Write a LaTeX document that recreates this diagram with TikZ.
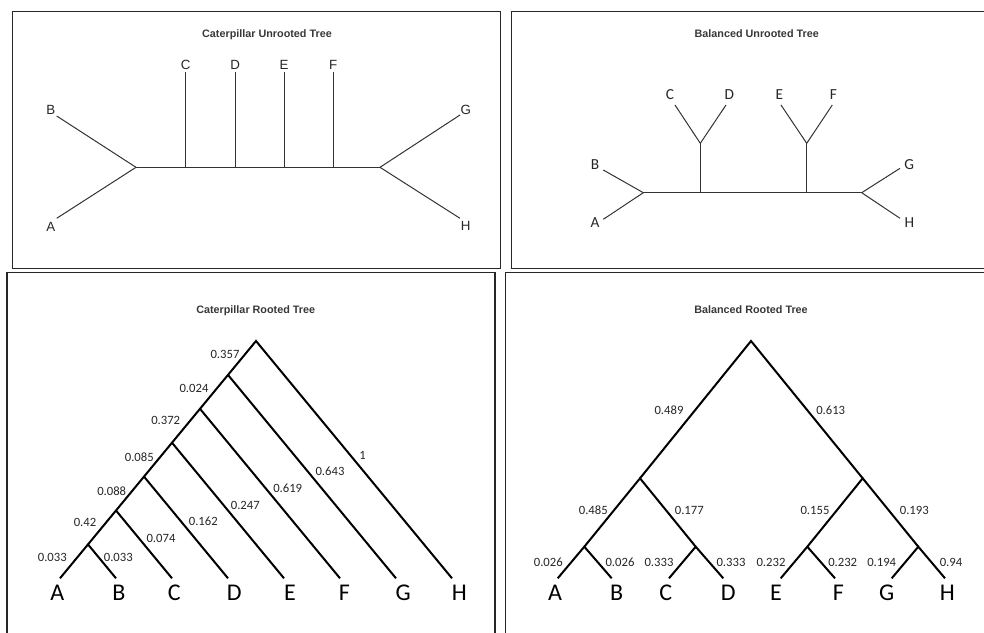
\documentclass[tikz,border=0pt]{standalone}
\usepackage{fontspec}
\setmainfont{Liberation Sans}
\newfontfamily\calfont{Carlito}
\newfontfamily\arfont{Liberation Sans}
\begin{document}
\begin{tikzpicture}[x=0.75pt,y=-0.75pt,
  frame/.style={draw=black!85, line width=1.15pt},
  ttl/.style={font=\arfont\bfseries\fontsize{8.1}{9}\selectfont, text=black!78, inner sep=0pt, anchor=base},
  ulab/.style={font=\arfont\fontsize{10}{12}\selectfont, text=black!85, inner sep=0pt},
  blab/.style={font=\calfont\fontsize{11.5}{13}\selectfont, text=black!85, inner sep=0pt},
  uedge/.style={draw=black!80, line width=0.75pt},
  redge/.style={draw=black, line width=1.5pt},
  wlab/.style={font=\calfont\fontsize{9.5}{11}\selectfont, text=black!85, inner sep=0pt},
  leaf/.style={font=\calfont\fontsize{18}{20}\selectfont, inner sep=0pt},
]
\useasboundingbox (0,0) rectangle (984,632);
% frames
\draw[frame] (12.5,11.5) rectangle (500.3,268.7);
\draw[frame] (511.7,11.5) rectangle (990,268.7);
\draw[frame] (7,272.3) rectangle (495,640);
\draw[frame] (505.7,272.3) rectangle (990,640);

% ===== Caterpillar Unrooted Tree =====
\node[ttl] (t1) at (267,37.3) {Caterpillar Unrooted Tree};
\coordinate (cl) at (136,167.3);
\coordinate (cr) at (380,167.3);
\coordinate (cc) at (185.7,167.3);
\coordinate (cd) at (235.3,167.3);
\coordinate (ce) at (284,167.3);
\coordinate (cf) at (333.3,167.3);
\coordinate (cC) at (185.7,72);
\coordinate (cD) at (235.3,72);
\coordinate (cE) at (284,72);
\coordinate (cF) at (333.3,72);
\coordinate (cB) at (56.7,116);
\coordinate (cA) at (56.7,218.3);
\coordinate (cG) at (460,115);
\coordinate (cH) at (460,218.3);
\draw[uedge] (cl) -- (cc) -- (cd) -- (ce) -- (cf) -- (cr);
\draw[uedge] (cc) -- (cC);
\draw[uedge] (cd) -- (cD);
\draw[uedge] (ce) -- (cE);
\draw[uedge] (cf) -- (cF);
\draw[uedge] (cl) -- (cB);
\draw[uedge] (cl) -- (cA);
\draw[uedge] (cr) -- (cG);
\draw[uedge] (cr) -- (cH);
\node[ulab] (lcC) at (185.7,65) {C};
\node[ulab] (lcD) at (235.3,65) {D};
\node[ulab] (lcE) at (284,65) {E};
\node[ulab] (lcF) at (333.3,65) {F};
\node[ulab] (lcB) at (50.7,110) {B};
\node[ulab] (lcA) at (50.7,226.7) {A};
\node[ulab] (lcG) at (465.7,110) {G};
\node[ulab] (lcH) at (465.7,226) {H};

% ===== Balanced Unrooted Tree =====
\node[ttl] (t2) at (756.7,37.3) {Balanced Unrooted Tree};
\coordinate (bl) at (643.3,192.7);
\coordinate (br) at (861.7,192.7);
\coordinate (b1) at (700.3,192.7);
\coordinate (b1t) at (700.3,143.3);
\coordinate (b2) at (806.7,192.7);
\coordinate (b2t) at (806.7,143.3);
\coordinate (bC) at (675,105);
\coordinate (bD) at (726,105);
\coordinate (bE) at (781,105);
\coordinate (bF) at (832.3,105);
\coordinate (bB) at (603.3,170);
\coordinate (bA) at (603.3,219.3);
\coordinate (bG) at (900,168.3);
\coordinate (bH) at (900,218.3);
\draw[uedge] (bl) -- (b1) -- (b2) -- (br);
\draw[uedge] (b1) -- (b1t);
\draw[uedge] (b2) -- (b2t);
\draw[uedge] (b1t) -- (bC);
\draw[uedge] (b1t) -- (bD);
\draw[uedge] (b2t) -- (bE);
\draw[uedge] (b2t) -- (bF);
\draw[uedge] (bl) -- (bB);
\draw[uedge] (bl) -- (bA);
\draw[uedge] (br) -- (bG);
\draw[uedge] (br) -- (bH);
\node[blab] (lbC) at (670,95) {C};
\node[blab] (lbD) at (729.3,95) {D};
\node[blab] (lbE) at (779.3,95) {E};
\node[blab] (lbF) at (833.3,95) {F};
\node[blab] (lbB) at (595,165) {B};
\node[blab] (lbA) at (595,222.7) {A};
\node[blab] (lbG) at (909.3,165) {G};
\node[blab] (lbH) at (909.3,222.7) {H};

% ===== Caterpillar Rooted Tree =====
\node[ttl] (t3) at (255.7,313.3) {Caterpillar Rooted Tree};
\coordinate (rA) at (60,578.3);
\coordinate (rB) at (116,578.3);
\coordinate (rC) at (172,578.3);
\coordinate (rD) at (228,578.3);
\coordinate (rE) at (284,578.3);
\coordinate (rF) at (340,578.3);
\coordinate (rG) at (396,578.3);
\coordinate (rH) at (452,578.3);
\coordinate (n1) at (88,544.4);
\coordinate (n2) at (116,510.5);
\coordinate (n3) at (144,476.6);
\coordinate (n4) at (172,442.7);
\coordinate (n5) at (200,408.8);
\coordinate (n6) at (228,374.9);
\coordinate (n7) at (256,341);
\draw[redge] (rA) -- (n1) -- (n2) -- (n3) -- (n4) -- (n5) -- (n6) -- (n7) -- (rH);
\draw[redge] (n1) -- (rB);
\draw[redge] (n2) -- (rC);
\draw[redge] (n3) -- (rD);
\draw[redge] (n4) -- (rE);
\draw[redge] (n5) -- (rF);
\draw[redge] (n6) -- (rG);
\node[wlab] (w1) at (225,354.3) {0.357};
\node[wlab] (w2) at (194,388.7) {0.024};
\node[wlab] (w3) at (165.7,420.7) {0.372};
\node[wlab] (w4) at (139.3,457.3) {0.085};
\node[wlab] (w5) at (111.7,491.3) {0.088};
\node[wlab] (w6) at (85,522.7) {0.42};
\node[wlab] (w7) at (52.3,557.7) {0.033};
\node[wlab] (w8) at (118.3,557.7) {0.033};
\node[wlab] (w9) at (161,538.3) {0.074};
\node[wlab] (w10) at (203.3,521.7) {0.162};
\node[wlab] (w11) at (245.3,505) {0.247};
\node[wlab] (w12) at (287.7,488.3) {0.619};
\node[wlab] (w13) at (330,471.7) {0.643};
\node[wlab] (w14) at (362.7,455) {1};
\node[leaf] (LA) at (57.3,592.3) {A};
\node[leaf] (LB) at (119,592.3) {B};
\node[leaf] (LC) at (174.3,592.3) {C};
\node[leaf] (LD) at (234.3,592.3) {D};
\node[leaf] (LE) at (290,592.3) {E};
\node[leaf] (LF) at (344.3,592.3) {F};
\node[leaf] (LG) at (403.3,592.3) {G};
\node[leaf] (LH) at (459.3,592.3) {H};

% ===== Balanced Rooted Tree =====
\node[ttl] (t4) at (751,313.3) {Balanced Rooted Tree};
\coordinate (sA) at (557.7,578.3);
\coordinate (sB) at (611.7,578.3);
\coordinate (sC) at (669,578.3);
\coordinate (sD) at (723.3,578.3);
\coordinate (sE) at (780.7,578.3);
\coordinate (sF) at (835,578.3);
\coordinate (sG) at (891.7,578.3);
\coordinate (sH) at (945,578.3);
\coordinate (mAB) at (584.3,546.7);
\coordinate (mCD) at (695.7,546.7);
\coordinate (mEF) at (807.3,546.7);
\coordinate (mGH) at (918.3,546.7);
\coordinate (mL) at (640,478.3);
\coordinate (mR) at (862.7,478.3);
\coordinate (mRoot) at (751,341);
\draw[redge] (mL) -- (mRoot) -- (mR);
\draw[redge] (mAB) -- (mL) -- (mCD);
\draw[redge] (mEF) -- (mR) -- (mGH);
\draw[redge] (sA) -- (mAB) -- (sB);
\draw[redge] (sC) -- (mCD) -- (sD);
\draw[redge] (sE) -- (mEF) -- (sF);
\draw[redge] (sG) -- (mGH) -- (sH);
\node[wlab] (v1) at (669,410) {0.489};
\node[wlab] (v2) at (830.7,410) {0.613};
\node[wlab] (v3) at (593.3,510) {0.485};
\node[wlab] (v4) at (689.3,510) {0.177};
\node[wlab] (v5) at (815,510) {0.155};
\node[wlab] (v6) at (914.3,510) {0.193};
\node[wlab] (v7) at (548.3,562.7) {0.026};
\node[wlab] (v8) at (620,562.7) {0.026};
\node[wlab] (v9) at (659,562.7) {0.333};
\node[wlab] (v10) at (731,562.7) {0.333};
\node[wlab] (v11) at (771,562.7) {0.232};
\node[wlab] (v12) at (842.7,562.7) {0.232};
\node[wlab] (v13) at (881.7,562.7) {0.194};
\node[wlab] (v14) at (951,562.7) {0.94};
\node[leaf] (MA) at (555,592.3) {A};
\node[leaf] (MB) at (616.7,592.3) {B};
\node[leaf] (MC) at (665.7,592.3) {C};
\node[leaf] (MD) at (728.3,592.3) {D};
\node[leaf] (ME) at (776,592.3) {E};
\node[leaf] (MF) at (838.3,592.3) {F};
\node[leaf] (MG) at (886.7,592.3) {G};
\node[leaf] (MH) at (947.3,592.3) {H};
\end{tikzpicture}
\end{document}
